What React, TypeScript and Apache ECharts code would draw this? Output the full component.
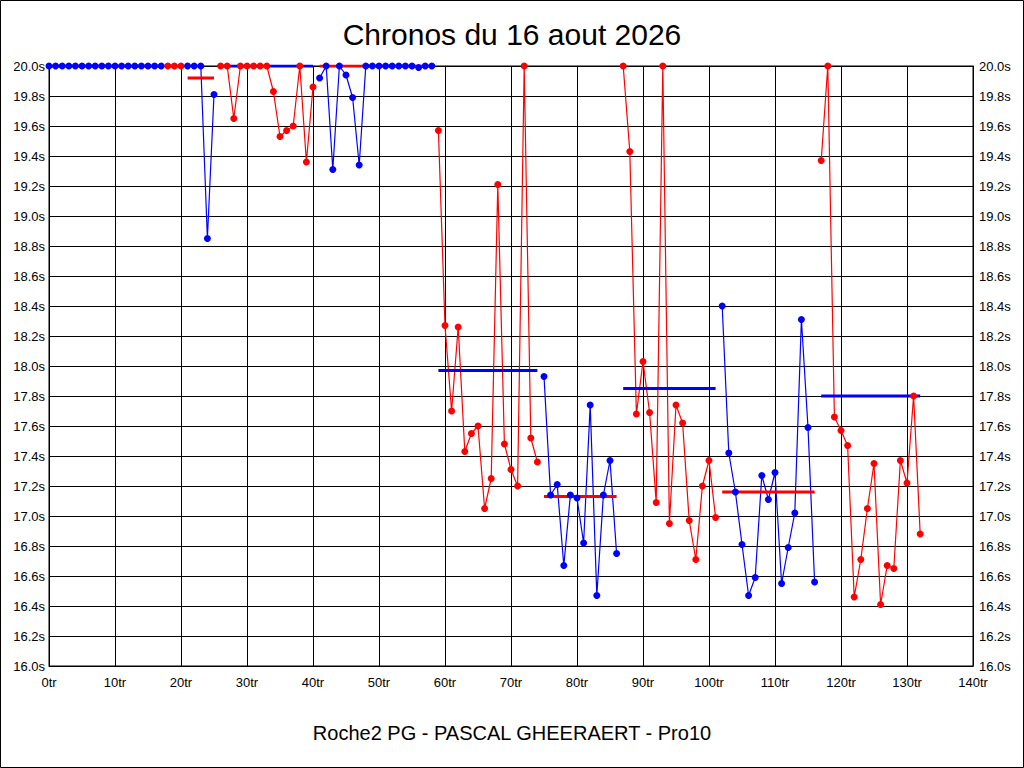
import React, { useEffect, useRef } from "react";
import * as echarts from "echarts";

const TITLE = "Chronos du 16 aout 2026";
const SUBTITLE = "Roche2 PG - PASCAL GHEERAERT - Pro10";

// Lap times (s), one array per stint; values of 20.0 are capped at the axis top.
const stint1Times = [20, 20, 20, 20, 20, 20, 20, 20, 20, 20, 20, 20, 20, 20, 20, 20, 20, 20];
const stint2Times = [20, 20, 20];
const stint3Times = [20, 20, 20, 18.85, 19.81];
const stint4Times = [20, 20, 19.65, 20, 20, 20, 20, 20, 19.83, 19.53, 19.57, 19.6, 20, 19.36, 19.86];
const stint5Times = [19.92, 20, 19.31, 20, 19.94, 19.79, 19.34, 20, 20, 20, 20, 20, 20, 20, 20, 19.99, 20, 20];
const stint6Times = [19.57, 18.27, 17.7, 18.26, 17.43, 17.55, 17.6, 17.05, 17.25, 19.21, 17.48, 17.31, 17.2, 20, 17.52, 17.36];
const stint7Times = [17.93, 17.14, 17.21, 16.67, 17.14, 17.12, 16.82, 17.74, 16.47, 17.14, 17.37, 16.75];
const stint8Times = [20, 19.43, 17.68, 18.03, 17.69, 17.09, 20, 16.95, 17.74, 17.62, 16.97, 16.71, 17.2, 17.37, 16.99];
const stint9Times = [18.4, 17.42, 17.16, 16.81, 16.47, 16.59, 17.27, 17.11, 17.29, 16.55, 16.79, 17.02, 18.31, 17.59, 16.56];
const stint10Times = [19.37, 20, 17.66, 17.57, 17.47, 16.46, 16.71, 17.05, 17.35, 16.41, 16.67, 16.65, 17.37, 17.22, 17.8, 16.88];

const stintTimes = [
  stint1Times, stint2Times, stint3Times, stint4Times, stint5Times,
  stint6Times, stint7Times, stint8Times, stint9Times, stint10Times,
];
const stintFirstLap = [0, 18, 21, 26, 41, 59, 75, 87, 102, 117];
const stintIsBlue = [true, false, true, false, true, false, true, false, true, false];
const stintAverage = [20.0, 20.0, 19.92, 20.0, 20.0, 17.97, 17.13, 17.85, 17.16, 17.8];

const BLUE = "#0000FF";
const RED = "#FF0000";
const FONT = "'Liberation Sans', Arial, sans-serif";

export default function App() {
  const ref = useRef<HTMLDivElement>(null);

  useEffect(() => {
    document.body.style.margin = "0";
    if (!ref.current) return;
    const chart = echarts.init(ref.current, undefined, { renderer: "svg" });

    const series: any[] = [];
    stintTimes.forEach((times, i) => {
      const first = stintFirstLap[i];
      const data = times.map((t, k) => [first + k, t]);
      const color = stintIsBlue[i] ? BLUE : RED;
      const avgColor = stintIsBlue[i] ? RED : BLUE;
      series.push({
        type: "line",
        data,
        z: 2,
        showSymbol: false,
        symbol: "none",
        lineStyle: { color, width: 1.2 },
        itemStyle: { color },
        silent: true,
      });
      series.push({
        type: "line",
        data: [
          [first, stintAverage[i]],
          [first + times.length - 1, stintAverage[i]],
        ],
        z: 3,
        symbol: "none",
        lineStyle: { color: avgColor, width: 3 },
        silent: true,
      });
      series.push({
        type: "scatter",
        data,
        z: 4,
        symbol: "circle",
        symbolSize: 7,
        itemStyle: { color, opacity: 1 },
        silent: true,
      });
    });

    const yAxisBase = {
      type: "value",
      min: 16,
      max: 20,
      interval: 0.2,
      axisTick: { show: false },
      axisLine: { show: true, lineStyle: { color: "#000", width: 1 } },
      axisLabel: {
        color: "#000",
        fontSize: 13,
        fontFamily: FONT,
        formatter: (v: number) => v.toFixed(1) + "s",
      },
    };

    chart.setOption({
      animation: false,
      backgroundColor: "#fff",
      grid: {
        left: 49,
        right: 51,
        top: 66,
        bottom: 102,
        show: true,
        borderColor: "#000",
        borderWidth: 1,
        backgroundColor: "#fff",
      },
      xAxis: {
        type: "value",
        min: 0,
        max: 140,
        interval: 10,
        axisTick: { show: false },
        axisLine: { show: true, lineStyle: { color: "#000", width: 1 } },
        splitLine: { show: true, lineStyle: { color: "#000", width: 1 } },
        axisLabel: {
          color: "#000",
          fontSize: 13,
          fontFamily: FONT,
          margin: 10,
          formatter: (v: number) => v + "tr",
        },
      },
      yAxis: [
        {
          ...yAxisBase,
          position: "left",
          splitLine: { show: true, lineStyle: { color: "#000", width: 1 } },
          axisLabel: { ...yAxisBase.axisLabel, margin: 4 },
        },
        {
          ...yAxisBase,
          position: "right",
          splitLine: { show: false },
          axisLabel: { ...yAxisBase.axisLabel, margin: 6 },
        },
      ],
      graphic: [
        {
          type: "rect",
          shape: { x: 0.5, y: 0.5, width: 1023, height: 767 },
          style: { fill: "none", stroke: "#000", lineWidth: 1 },
          silent: true,
          z: 100,
        },
        {
          type: "text",
          x: 512,
          y: 34,
          style: {
            text: TITLE,
            fill: "#000",
            font: `30px ${FONT}`,
            textAlign: "center",
            textVerticalAlign: "middle",
          },
        },
        {
          type: "text",
          x: 512,
          y: 733,
          style: {
            text: SUBTITLE,
            fill: "#000",
            font: `20px ${FONT}`,
            textAlign: "center",
            textVerticalAlign: "middle",
          },
        },
      ],
      series,
    });

    return () => {
      chart.dispose();
    };
  }, []);

  return (
    <div
      ref={ref}
      style={{ position: "absolute", left: 0, top: 0, width: 1024, height: 768 }}
    />
  );
}
